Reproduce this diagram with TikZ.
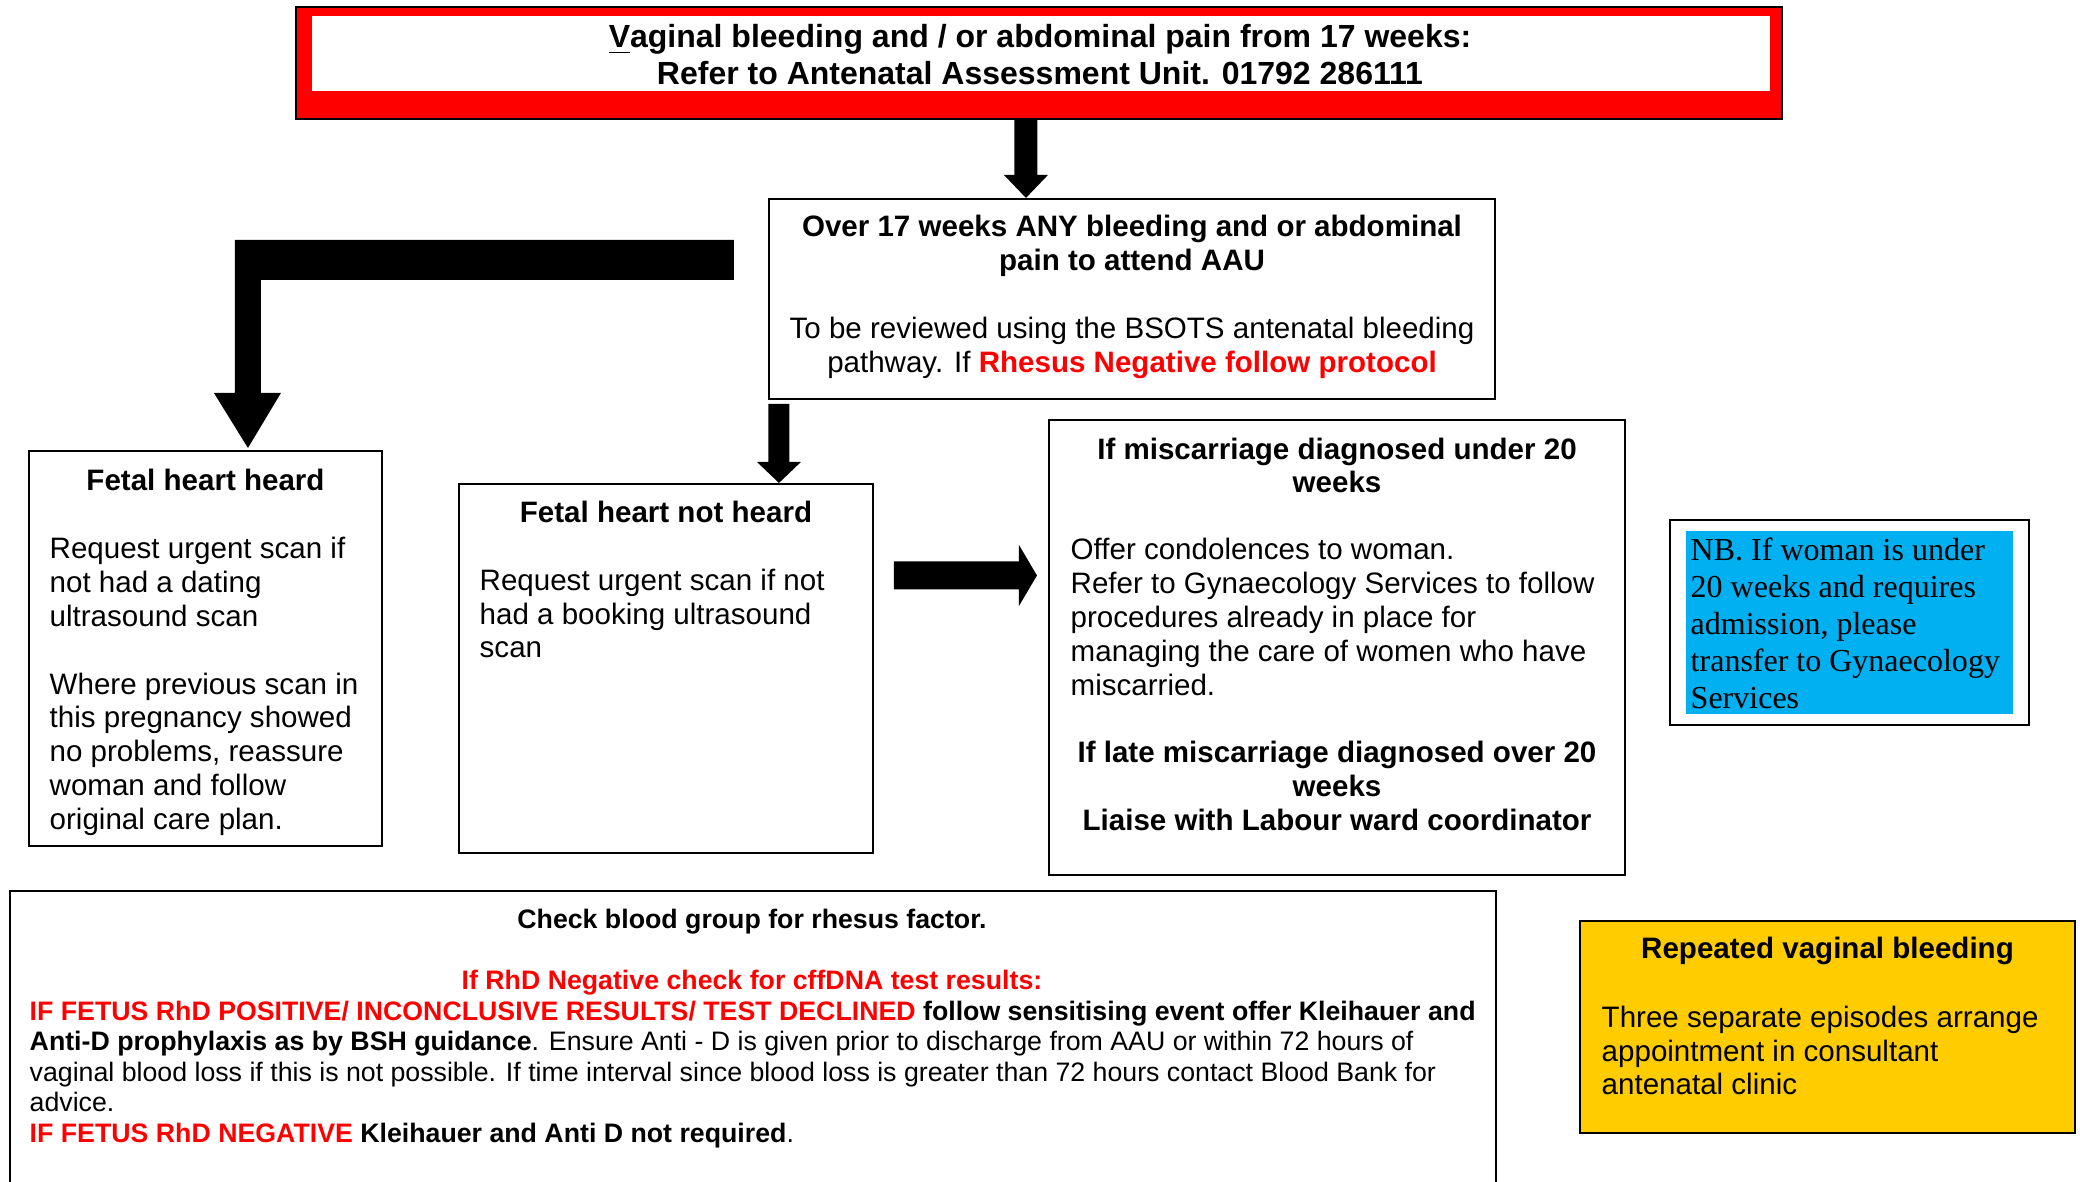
\documentclass[tikz,border=0pt]{standalone}
\usepackage{fontspec}
\setmainfont{Liberation Sans}
\newfontfamily\nbserif{Liberation Serif}
\usepackage{tikz}
\usetikzlibrary{calc,fit}

\definecolor{alertred}{RGB}{255,0,0}
\definecolor{nbblue}{RGB}{0,176,240}
\definecolor{warnyellow}{RGB}{255,204,0}

\newcommand{\bodyfont}{\fontsize{8.4pt}{9.62pt}\selectfont}
\newcommand{\bannerfont}{\fontsize{9.1pt}{10.5pt}\selectfont\bfseries}
\newcommand{\rhfont}{\fontsize{7.6pt}{8.68pt}\selectfont}
\newcommand{\nbfont}{\nbserif\fontsize{9.1pt}{10.5pt}\selectfont}

\begin{document}
\begin{tikzpicture}[x=0.01cm,y=-0.01cm,
  box/.style={draw,line width=0.6pt,inner sep=0pt},
  body/.style={inner sep=0pt,align=left,font=\bodyfont,anchor=west},
  head/.style={inner sep=0pt,align=center,font=\bodyfont\bfseries}]
  \useasboundingbox (0,0) rectangle (2080,1181);

  % boxes
  \node[box,fill=alertred,fit={(296,7) (1782,119)}] (banner) {};
  \node[fill=white,inner sep=0pt,fit={(312,16) (1770,91)}] (bannerin) {};
  \node[box,fit={(769,199) (1495,399)}] (over) {};
  \node[box,fit={(29,451) (382,846)}] (heard) {};
  \node[box,fit={(459,484) (873,853)}] (notheard) {};
  \node[box,fit={(1049,420) (1625,875)}] (misc) {};
  \node[box,fit={(1670,520) (2029,725)}] (nb) {};
  \node[fill=nbblue,inner sep=0pt,fit={(1686,531) (2013,714)}] (nbin) {};
  \node[box,fill=warnyellow,fit={(1580,921) (2075,1133)}] (repeat) {};
  \node[box,fit={(10,891) (1496,1210)}] (rhesus) {};

  % texts
  \node[inner sep=0pt,align=center,font=\bannerfont] (bannertxt) at (1040,54.5)
    {\underline{V}aginal bleeding and / or abdominal pain from 17 weeks:\\
     Refer to Antenatal Assessment Unit. 01792 286111};
  \node[inner sep=0pt,align=center,font=\bodyfont] (overtxt) at (1132,297)
    {\textbf{Over 17 weeks ANY bleeding and or abdominal}\\
     \textbf{pain to attend AAU}\\[9.6pt]
     To be reviewed using the BSOTS antenatal bleeding\\
     pathway. If \textcolor{alertred}{\textbf{Rhesus Negative follow protocol}}};

  \node[head] (heardhead) at (205.5,480) {Fetal heart heard};
  \node[body] (heardtxt) at (49,686.5)
    {Request urgent scan if\\not had a dating\\ultrasound scan\\[9.6pt]
     Where previous scan in\\this pregnancy showed\\no problems, reassure\\
     woman and follow\\original care plan.};

  \node[head] (notheardhead) at (666,512) {Fetal heart not heard};
  \node[body] (notheardtxt) at (479,613.5)
    {Request urgent scan if not\\had a booking ultrasound\\scan};

  \node[head] (mischead) at (1337,465.5) {If miscarriage diagnosed under 20\\weeks};
  \node[body] (misctxt) at (1070,617)
    {Offer condolences to woman.\\Refer to Gynaecology Services to follow\\
     procedures already in place for\\managing the care of women who have\\miscarried.};
  \node[head] (misclate) at (1337,786)
    {If late miscarriage diagnosed over 20\\weeks\\Liaise with Labour ward coordinator};

  \node[inner sep=0pt,align=left,font=\nbfont,anchor=west] (nbtxt) at (1690,623.5)
    {NB. If woman is under\\20 weeks and requires\\admission, please\\transfer to Gynaecology\\Services};

  \node[head] (repeathead) at (1827.5,951) {Repeated vaginal bleeding};
  \node[body] (repeattxt) at (1601,1050.5)
    {Three separate episodes arrange\\appointment in consultant\\antenatal clinic};

  \node[inner sep=0pt,align=center,font=\rhfont\bfseries] (rhhead) at (752,922)
    {Check blood group for rhesus factor.};
  \node[inner sep=0pt,align=center,font=\rhfont\bfseries,text=alertred] (rhsub) at (752,983)
    {If RhD Negative check for cffDNA test results:};
  \node[inner sep=0pt,align=left,font=\rhfont,anchor=west] (rhtxt) at (29,1074.5)
    {\textbf{\textcolor{alertred}{IF FETUS RhD POSITIVE/ INCONCLUSIVE RESULTS/ TEST DECLINED}} \textbf{follow sensitising event offer Kleihauer and}\\
     \textbf{Anti-D prophylaxis as by BSH guidance}. Ensure Anti - D is given prior to discharge from AAU or within 72 hours of\\
     vaginal blood loss if this is not possible. If time interval since blood loss is greater than 72 hours contact Blood Bank for\\
     advice.\\
     \textbf{\textcolor{alertred}{IF FETUS RhD NEGATIVE}} \textbf{Kleihauer and Anti D not required}.};

  % block arrows
  \fill ($(over.north west)+(258,0)$) -- ++(-22,-23) -- ++(10.5,0) -- ++(0,-56)
    -- ++(23,0) -- ++(0,56) -- ++(10.5,0) -- cycle;
  \fill ($(over.north west)+(-34,42)$) -- ++(-499,0) -- ++(0,153) -- ++(-21,0)
    -- ($(heard.north west)+(220,-2)$) -- ++(33,-55) -- ++(-20,0) -- ++(0,-113)
    -- ++(473,0) -- cycle;
  \fill ($(notheard.north west)+(321,0)$) -- ++(-22,-21) -- ++(11.5,0) -- ++(0,-58)
    -- ++(21,0) -- ++(0,58) -- ++(11.5,0) -- cycle;
  \fill ($(misc.north west)+(-11,156.5)$) -- ++(-18,-30.5) -- ++(0,16.5) -- ++(-125,0)
    -- ++(0,28) -- ++(125,0) -- ++(0,16.5) -- cycle;
\end{tikzpicture}
\end{document}
